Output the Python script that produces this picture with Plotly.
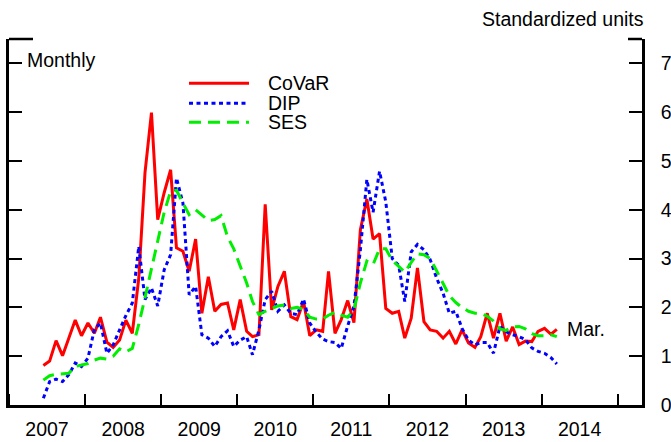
import pandas as pd
import plotly.graph_objects as go

# ---- data (monthly, Jun 2007 - Mar 2014), standardized units ----
start_month = "2007-06-01"

covar = [0.81, 0.90, 1.32, 1.01, 1.37, 1.74, 1.42, 1.68, 1.47, 1.80,
         1.29, 1.18, 1.33, 1.74, 1.47, 2.60, 4.76, 5.99, 3.80, 4.35,
         4.82, 3.22, 3.15, 2.74, 3.40, 1.88, 2.63, 1.92, 2.06, 2.09,
         1.54, 2.16, 1.51, 1.40, 1.44, 4.11, 1.95, 2.43, 2.74, 1.81,
         1.75, 2.12, 1.42, 1.54, 1.51, 2.74, 1.47, 1.75, 2.14, 1.69,
         3.59, 4.22, 3.40, 3.51, 1.98, 1.88, 1.92, 1.37, 1.78, 2.81,
         1.71, 1.54, 1.51, 1.37, 1.51, 1.25, 1.54, 1.27, 1.18, 1.40,
         1.88, 1.37, 1.88, 1.31, 1.60, 1.24, 1.31, 1.30, 1.51, 1.57,
         1.45, 1.55]

dip = [0.14, 0.48, 0.53, 0.48, 0.62, 0.86, 0.79, 0.96, 1.55, 1.68,
       1.06, 1.23, 1.54, 1.83, 2.09, 3.25, 2.16, 2.40, 2.03, 2.77,
       3.08, 4.65, 4.14, 2.26, 2.43, 1.44, 1.37, 1.20, 1.40, 1.52,
       1.20, 1.33, 1.40, 1.03, 1.54, 2.16, 2.33, 1.92, 2.05, 1.88,
       1.85, 2.17, 1.68, 1.49, 1.35, 1.30, 1.28, 1.16, 1.62, 2.02,
       3.18, 4.62, 3.95, 4.79, 4.16, 3.00, 2.86, 2.12, 3.14, 3.29,
       3.18, 2.98, 2.60, 2.29, 1.88, 1.92, 1.57, 1.33, 1.23, 1.28,
       1.28, 1.06, 1.61, 1.50, 1.44, 1.40, 1.34, 1.17, 1.10, 1.06,
       0.97, 0.84]

ses = [0.51, 0.60, 0.63, 0.64, 0.65, 0.79, 0.82, 0.85, 0.92, 0.96,
       0.94, 1.00, 1.15, 1.09, 1.16, 1.65, 2.20, 2.80, 3.40, 3.95,
       4.38, 4.40, 4.14, 3.90, 4.00, 3.90, 3.78, 3.80, 3.88, 3.45,
       3.20, 2.85, 2.50, 2.12, 1.85, 1.92, 1.98, 2.03, 2.05, 1.98,
       2.00, 1.96, 1.80, 1.76, 1.76, 1.84, 1.90, 1.84, 1.80, 1.95,
       2.50, 2.95, 2.88, 3.20, 3.20, 2.96, 2.84, 2.72, 2.92, 3.10,
       3.08, 3.00, 2.75, 2.48, 2.24, 2.10, 2.00, 1.92, 1.88, 1.88,
       1.82, 1.72, 1.56, 1.53, 1.60, 1.61, 1.56, 1.46, 1.42, 1.42,
       1.44, 1.40]

series_names = ["CoVaR", "DIP", "SES"]
y_ticks = [0, 1, 2, 3, 4, 5, 6, 7]

dates = pd.date_range(start_month, periods=len(covar), freq="MS") + pd.Timedelta(days=14)

FONT = "Liberation Sans, Arial, Helvetica, sans-serif"
FS = 19.5
colors = ["#ff0000", "#0000ff", "#00ee00"]
dashes = ["solid", "4px,3.5px", "12px,7px"]

fig = go.Figure()
for name, vals, c, d in zip(series_names, [covar, dip, ses], colors, dashes):
    fig.add_trace(go.Scatter(x=dates, y=vals, mode="lines", name=name,
                             line=dict(color=c, width=3, dash=d),
                             showlegend=False, hoverinfo="skip"))

# axis geometry in paper units
L, R, T, B = 9, 29, 39, 37
W, H = 671, 442
pw, ph = W - L - R, H - T - B

def px_x(p):
    return (p - L) / pw

def px_y(p):
    return (H - B - p) / ph

shapes = []
annotations = []

# corner brackets on top edge
shapes.append(dict(type="line", xref="paper", yref="paper", x0=0, x1=px_x(33), y0=1, y1=1,
                   line=dict(color="black", width=2.5)))
shapes.append(dict(type="line", xref="paper", yref="paper", x0=px_x(628), x1=1, y0=1, y1=1,
                   line=dict(color="black", width=2.5)))

# custom legend
leg_y = [83.3, 103.3, 122.3]
for name, c, d, yy in zip(series_names, colors, dashes, leg_y):
    shapes.append(dict(type="line", xref="paper", yref="paper",
                       x0=px_x(189), x1=px_x(249), y0=px_y(yy), y1=px_y(yy),
                       line=dict(color=c, width=3, dash=d)))
    annotations.append(dict(text=name, xref="paper", yref="paper", x=px_x(266), y=px_y(yy),
                            xanchor="left", yanchor="middle", showarrow=False,
                            font=dict(family=FONT, size=FS, color="black")))

annotations.append(dict(text="Monthly", xref="paper", yref="paper", x=px_x(25), y=px_y(60),
                        xanchor="left", yanchor="middle", showarrow=False,
                        font=dict(family=FONT, size=FS, color="black")))
annotations.append(dict(text="Standardized units", xref="paper", yref="paper", x=px_x(646), y=px_y(19),
                        xanchor="right", yanchor="middle", showarrow=False,
                        font=dict(family=FONT, size=FS, color="black")))
annotations.append(dict(text="Mar.", x=dates[-1], y=covar[-1], xref="x", yref="y",
                        xanchor="left", yanchor="middle", xshift=8, showarrow=False,
                        font=dict(family=FONT, size=FS, color="black")))

fig.update_layout(
    width=W, height=H,
    margin=dict(l=L, r=R, t=T, b=B, autoexpand=False),
    paper_bgcolor="white", plot_bgcolor="white",
    font=dict(family=FONT, size=FS, color="black"),
    shapes=shapes, annotations=annotations,
    showlegend=False,
)
fig.update_xaxes(
    type="date", range=["2007-01-01", "2015-04-28"], automargin=False,
    showline=True, linecolor="black", linewidth=2.5, mirror=False,
    ticks="inside", ticklen=11, tickwidth=2, tickcolor="black",
    tick0="2007-01-01", dtick="M12", tickformat="%Y", ticklabelmode="period",
    showgrid=False, zeroline=False, tickfont=dict(size=FS), ticklabelstandoff=5,
)
fig.update_yaxes(
    side="right", range=[0, 7.5], tickvals=y_ticks, automargin=False,
    showline=True, linecolor="black", linewidth=2.5, mirror="ticks",
    ticks="inside", ticklen=13, tickwidth=2, tickcolor="black",
    showgrid=False, zeroline=False, tickfont=dict(size=FS), ticklabelstandoff=12,
)

fig.write_html(
    "out.html",
    config={"displayModeBar": False},
    post_script="document.body.style.margin='0';document.body.style.overflow='hidden';",
)
